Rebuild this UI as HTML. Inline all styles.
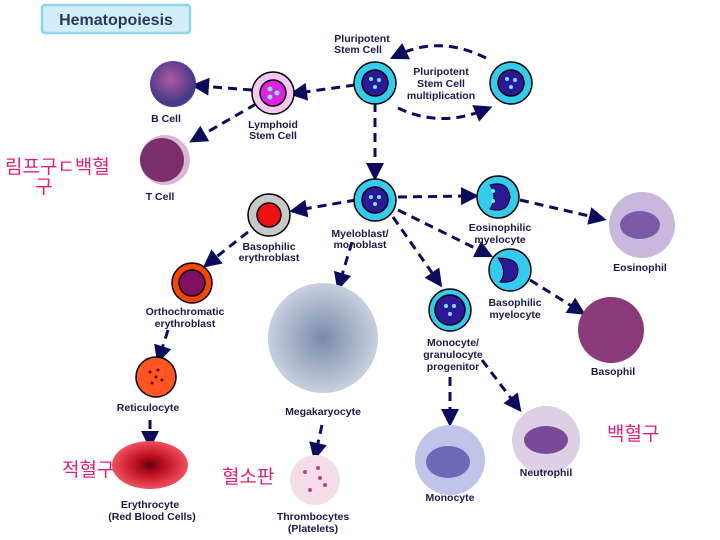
<!DOCTYPE html>
<html><head><meta charset="utf-8"><style>
body{margin:0;background:#fff}
svg{display:block}
text{font-family:"Liberation Sans",sans-serif;font-weight:bold;fill:#1a1a4a;font-size:10.5px;text-anchor:middle}
.k{font-family:"Liberation Sans","Noto Sans CJK KR","NanumGothic",sans-serif;fill:#e0207a;font-size:19px;font-weight:normal;text-anchor:start}
.d{fill:none;stroke:#0c0c5c;stroke-width:3;stroke-dasharray:9,6}
</style></head><body>
<svg width="720" height="540" viewBox="0 0 720 540">
<defs>
<marker id="a" markerWidth="6" markerHeight="6" refX="3" refY="3" orient="auto" markerUnits="strokeWidth"><path d="M0,0 L6,3 L0,6 z" fill="#0c0c5c"/></marker>
<radialGradient id="pu" cx="45%" cy="40%"><stop offset="0" stop-color="#b05aa0"/><stop offset="1" stop-color="#4a3a8a"/></radialGradient>
<radialGradient id="rb" cx="50%" cy="50%"><stop offset="0" stop-color="#600010"/><stop offset=".4" stop-color="#c01020"/><stop offset="1" stop-color="#f05060"/></radialGradient>
<radialGradient id="mg" cx="50%" cy="50%"><stop offset="0" stop-color="#7a8aa8"/><stop offset="1" stop-color="#c8d0e0"/></radialGradient>
</defs>
<rect x="42" y="5" width="148" height="28" rx="3" fill="#d2eefa" stroke="#90d4ee" stroke-width="2.5"/>
<text x="116" y="25" style="font-size:16px;fill:#2a3a55">Hematopoiesis</text>

<!-- connectors -->
<path class="d" d="M486,58 Q440,35 398,55" marker-end="url(#a)"/>
<path class="d" d="M398,108 Q440,128 484,110" marker-end="url(#a)"/>
<path class="d" d="M355,85 L298,93" marker-end="url(#a)"/>
<path class="d" d="M252,90 L200,86" marker-end="url(#a)"/>
<path class="d" d="M256,104 L197,138" marker-end="url(#a)"/>
<path class="d" d="M375,103 L375,172" marker-end="url(#a)"/>
<path class="d" d="M356,200 L298,210" marker-end="url(#a)"/>
<path class="d" d="M398,197 L470,196" marker-end="url(#a)"/>
<path class="d" d="M398,210 L485,253" marker-end="url(#a)"/>
<path class="d" d="M393,217 L437,280" marker-end="url(#a)"/>
<path class="d" d="M352,242 L340,282" marker-end="url(#a)"/>
<path class="d" d="M520,200 L598,218" marker-end="url(#a)"/>
<path class="d" d="M530,280 L578,310" marker-end="url(#a)"/>
<path class="d" d="M248,232 L210,262" marker-end="url(#a)"/>
<path class="d" d="M168,330 L160,355" marker-end="url(#a)"/>
<path class="d" d="M150,420 L150,440" marker-end="url(#a)"/>
<path class="d" d="M322,425 L316,452" marker-end="url(#a)"/>
<path class="d" d="M450,377 L450,418" marker-end="url(#a)"/>
<path class="d" d="M482,360 L516,405" marker-end="url(#a)"/>

<!-- stem cells -->
<g stroke="#000" stroke-width="1.5">
<circle cx="375" cy="83" r="21" fill="#33ccee"/><circle cx="375" cy="83" r="13" fill="#2a1a9a"/>
<circle cx="511" cy="83" r="21" fill="#33ccee"/><circle cx="511" cy="83" r="13" fill="#2a1a9a"/>
<circle cx="273" cy="93" r="21" fill="#f4c8f0"/><circle cx="273" cy="93" r="13" fill="#e020e0"/>
<circle cx="375" cy="200" r="21" fill="#33ccee"/><circle cx="375" cy="200" r="13" fill="#2a1a9a"/>
<circle cx="498" cy="197" r="21" fill="#33ccee"/>
<circle cx="510" cy="270" r="21" fill="#33ccee"/>
<circle cx="450" cy="310" r="21" fill="#33ccee"/><circle cx="450" cy="310" r="15" fill="#2a1a9a"/>
<circle cx="269" cy="215" r="21" fill="#c8c8c8"/><circle cx="269" cy="215" r="12" fill="#ee1111"/>
<circle cx="192" cy="283" r="20" fill="#ff4400"/><circle cx="192" cy="283" r="13" fill="#801060"/>
<circle cx="156" cy="377" r="20" fill="#ff5522"/>
</g>
<path d="M490,185 q18,-5 20,12 q-2,17 -20,12 q8,-12 0,-24z" fill="#2a1a9a" stroke="#000"/>
<path d="M498,258 q20,0 20,12 q0,14 -18,12 q8,-10 -2,-24z" fill="#2a1a9a" stroke="#000"/>
<g fill="#7ee6ff">
<circle cx="371" cy="79" r="2"/><circle cx="379" cy="80" r="2"/><circle cx="375" cy="87" r="2"/>
<circle cx="507" cy="79" r="2"/><circle cx="515" cy="80" r="2"/><circle cx="511" cy="87" r="2"/>
<circle cx="270" cy="89" r="2.5"/><circle cx="277" cy="93" r="2.5"/><circle cx="270" cy="97" r="2.5"/>
<circle cx="371" cy="197" r="2"/><circle cx="379" cy="197" r="2"/><circle cx="375" cy="204" r="2"/>
<circle cx="446" cy="306" r="2"/><circle cx="454" cy="306" r="2"/><circle cx="450" cy="314" r="2"/>
<circle cx="493" cy="191" r="2"/><circle cx="493" cy="201" r="2"/>
</g>
<g fill="#660000"><circle cx="150" cy="372" r="1.5"/><circle cx="158" cy="370" r="1.5"/><circle cx="162" cy="380" r="1.5"/><circle cx="152" cy="383" r="1.5"/><circle cx="156" cy="377" r="1.5"/></g>

<!-- photo cells -->
<circle cx="173" cy="84" r="23" fill="url(#pu)"/>
<circle cx="165" cy="160" r="25" fill="#d8b8d8"/><circle cx="162" cy="160" r="22" fill="#7a2e6a"/>
<circle cx="642" cy="225" r="33" fill="#c8b8dc"/><ellipse cx="640" cy="225" rx="20" ry="14" fill="#7a5aa8"/>
<circle cx="611" cy="330" r="33" fill="#8a3a7a"/>
<ellipse cx="150" cy="465" rx="38" ry="24" fill="url(#rb)"/>
<circle cx="323" cy="338" r="55" fill="url(#mg)"/>
<circle cx="315" cy="480" r="25" fill="#f4dce8"/>
<g fill="#c04080"><circle cx="305" cy="472" r="2"/><circle cx="318" cy="468" r="2"/><circle cx="325" cy="485" r="2"/><circle cx="310" cy="490" r="2"/><circle cx="320" cy="478" r="2"/></g>
<circle cx="450" cy="460" r="35" fill="#c0c4e8"/><ellipse cx="448" cy="462" rx="22" ry="16" fill="#6a6ab8"/>
<circle cx="546" cy="440" r="34" fill="#ddd0e4"/><ellipse cx="546" cy="440" rx="22" ry="14" fill="#7a4a9a"/>

<!-- labels -->
<text x="362" y="42">Pluripotent</text><text x="358" y="53">Stem Cell</text>
<text x="441" y="75">Pluripotent</text><text x="441" y="87">Stem Cell</text><text x="441" y="99">multiplication</text>
<text x="273" y="128">Lymphoid</text><text x="273" y="139">Stem Cell</text>
<text x="166" y="122">B Cell</text><text x="160" y="200">T Cell</text>
<text x="360" y="237">Myeloblast/</text><text x="360" y="248">monoblast</text>
<text x="500" y="231">Eosinophilic</text><text x="500" y="243">myelocyte</text>
<text x="515" y="306">Basophilic</text><text x="515" y="318">myelocyte</text>
<text x="640" y="271">Eosinophil</text><text x="613" y="375">Basophil</text>
<text x="269" y="250">Basophilic</text><text x="269" y="261">erythroblast</text>
<text x="185" y="315">Orthochromatic</text><text x="185" y="327">erythroblast</text>
<text x="148" y="411">Reticulocyte</text>
<text x="150" y="508">Erythrocyte</text><text x="152" y="520">(Red Blood Cells)</text>
<text x="323" y="415">Megakaryocyte</text>
<text x="313" y="520">Thrombocytes</text><text x="313" y="532">(Platelets)</text>
<text x="453" y="346">Monocyte/</text><text x="453" y="358">granulocyte</text><text x="453" y="370">progenitor</text>
<text x="450" y="501">Monocyte</text><text x="546" y="476">Neutrophil</text>
<text class="k" x="5" y="173">림프구ㄷ백혈</text><text class="k" x="35" y="193">구</text>
<text class="k" x="62" y="476">적혈구</text><text class="k" x="222" y="483">혈소판</text><text class="k" x="607" y="440">백혈구</text>
</svg>
</body></html>
